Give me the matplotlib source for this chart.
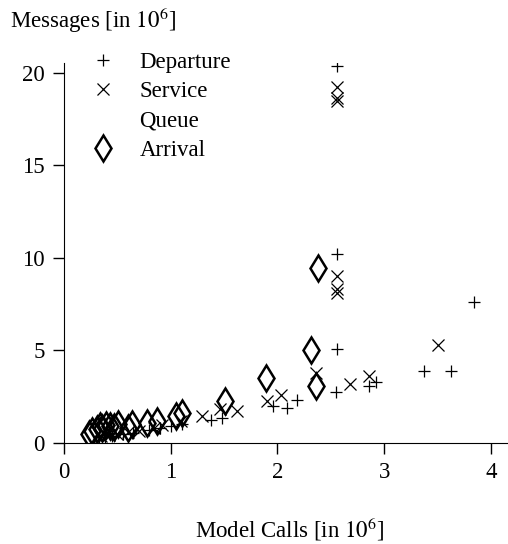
import matplotlib
matplotlib.use("Agg")
import matplotlib.pyplot as plt

plt.rcParams['font.family'] = ['Liberation Serif', 'DejaVu Serif']
plt.rcParams['mathtext.fontset'] = 'stix'

dep_x = [2.56, 2.56, 2.56, 3.84, 3.37, 3.63, 2.55, 2.86, 2.92, 1.38, 1.48, 1.96,
         2.09, 2.18, 1.00, 1.11, 0.90, 0.80, 0.65, 0.55, 0.45, 0.38, 0.33]
dep_y = [20.4, 10.2, 5.1, 7.63, 3.87, 3.87, 2.74, 3.1, 3.28, 1.24, 1.35, 1.99,
         1.89, 2.3, 0.9, 1.05, 0.8, 0.7, 0.55, 0.5, 0.4, 0.35, 0.3]

serv_x = [2.56, 2.56, 2.56, 2.56, 2.56, 2.56, 3.50, 2.86, 2.68, 2.36, 1.90, 2.03,
          1.29, 1.62, 1.46, 1.10, 0.84, 0.92, 0.70, 0.60, 0.50, 0.42, 0.35]
serv_y = [19.25, 18.65, 18.5, 9.0, 8.3, 8.1, 5.32, 3.6, 3.2, 3.76, 2.26, 2.6,
          1.45, 1.72, 1.83, 1.2, 0.8, 0.95, 0.65, 0.6, 0.5, 0.45, 0.4]

queue_x = []
queue_y = []

arr_x = [2.38, 2.31, 2.36, 1.89, 1.51, 1.11, 1.05, 0.87, 0.78, 0.64, 0.60, 0.51,
         0.47, 0.43, 0.39, 0.36, 0.34, 0.31, 0.26, 0.23]
arr_y = [9.46, 5.05, 3.06, 3.5, 2.26, 1.6, 1.45, 1.18, 1.08, 1.0, 0.8, 1.0,
         0.85, 0.9, 0.95, 0.8, 0.9, 0.75, 0.65, 0.5]

fig = plt.figure(figsize=(5.08, 5.44), dpi=100)
ax = fig.add_axes([0.126, 0.1857, 0.872, 0.6985])

ax.plot(dep_x, dep_y, '+', color='black', markersize=8.6, markeredgewidth=0.9,
        label='Departure')
ax.plot(serv_x, serv_y, 'x', color='black', markersize=8, markeredgewidth=0.9,
        label='Service')
ax.plot(queue_x, queue_y, linestyle='none', marker='none', label='Queue')
ax.plot(arr_x, arr_y, 'd', color='black', markerfacecolor='none', markersize=13.7,
        markeredgewidth=1.8, label='Arrival')

ax.set_xlim(0, 4.15)
ax.set_ylim(0, 20.54)
ax.set_xticks([0, 1, 2, 3, 4])
ax.set_yticks([0, 5, 10, 15, 20])
for s in ['top', 'right']:
    ax.spines[s].set_visible(False)
ax.tick_params(direction='out', length=8, width=1, labelsize=16.5, pad=6)

ax.legend(loc='upper left', bbox_to_anchor=(0.175, 0.905),
          bbox_transform=fig.transFigure, frameon=False, fontsize=16.5,
          handlelength=1.2, handletextpad=1.0, labelspacing=0.36,
          borderpad=0, borderaxespad=0)

fig.text(0.02, 0.963, 'Messages [in $10^6$]', fontsize=16.5, va='center', ha='left')
fig.text(0.571, 0.028, 'Model Calls [in $10^6$]', fontsize=16.5, va='center', ha='center')

fig.savefig('out.png', dpi=100)
